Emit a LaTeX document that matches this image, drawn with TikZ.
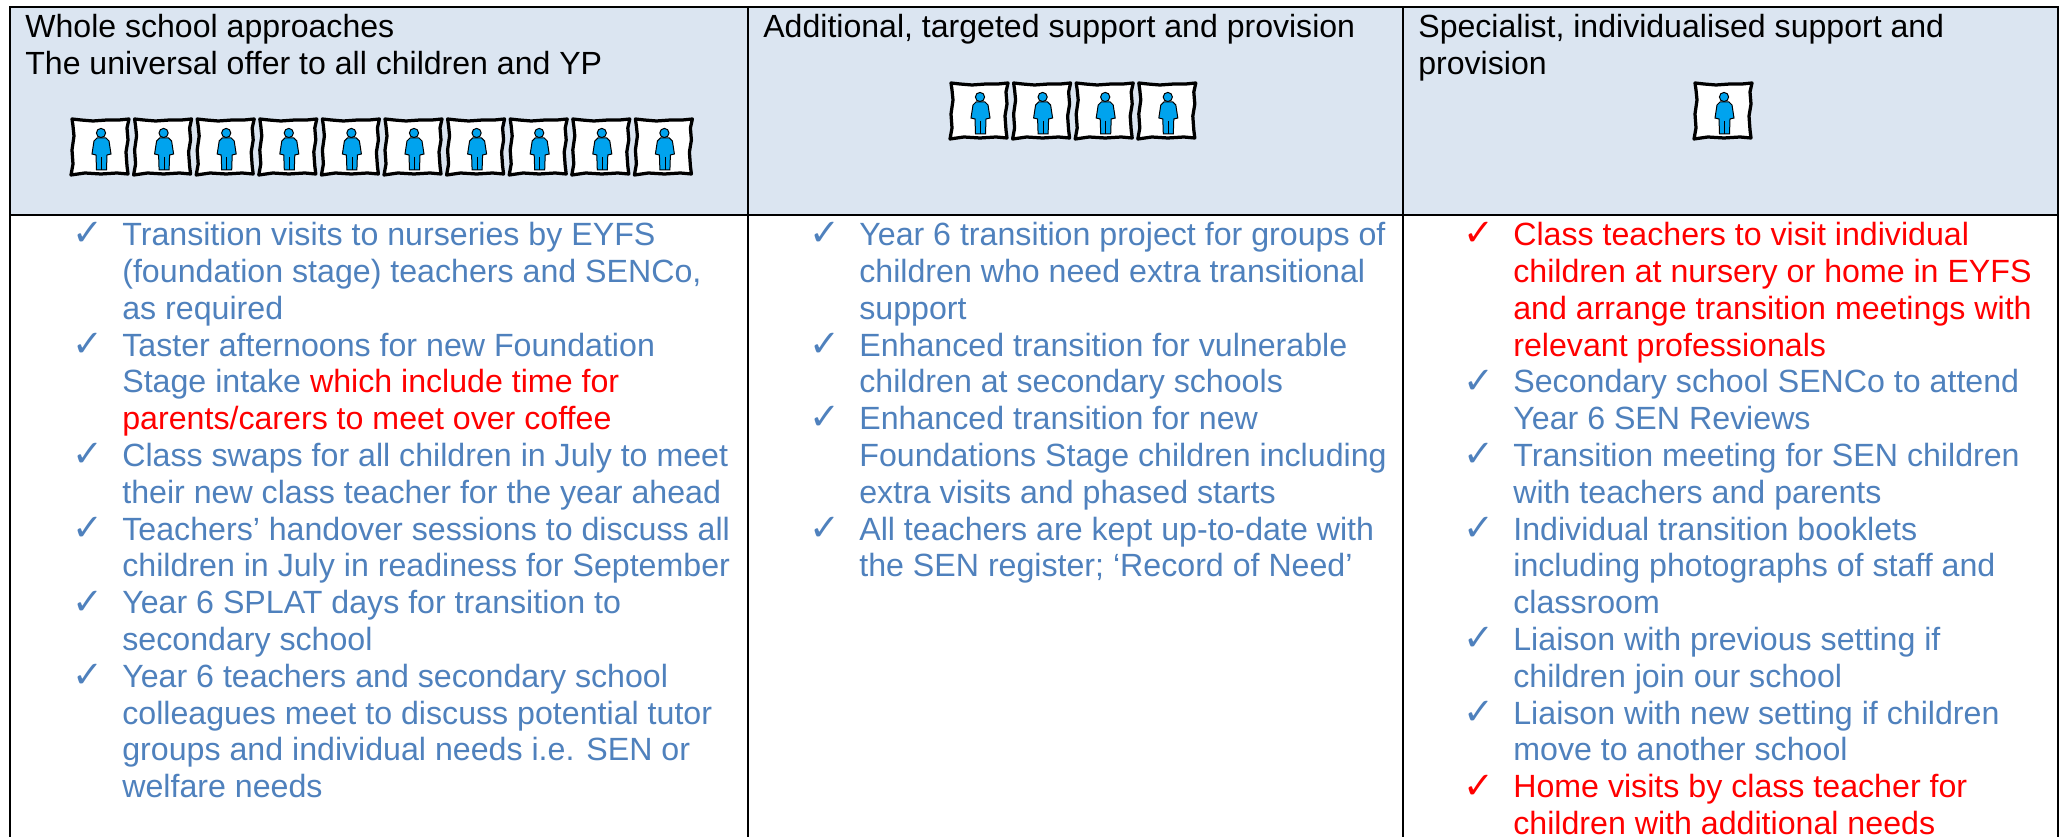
\documentclass[tikz,border=0pt]{standalone}
\usepackage{fontspec}
\setmainfont{Liberation Sans}
\newfontfamily\symfont{DejaVu Sans}
\definecolor{hdr}{HTML}{DBE5F1}
\definecolor{bl}{HTML}{4F81BD}
\definecolor{pers}{HTML}{00A3EE}
\tikzset{x=0.02cm,y=-0.02cm,
 hd/.style={anchor=north west,inner sep=0pt,align=left,font=\fontsize{18.25pt}{20.95pt}\selectfont,text=black},
 it/.style={anchor=north west,inner sep=0pt,align=left,font=\fontsize{18.3pt}{20.95pt}\selectfont},
 ck/.style={anchor=base west,inner sep=0pt,font=\fontsize{21pt}{21pt}\symfont},
 tablerule/.style={line width=0.055cm,draw=black}}
\newcommand{\personbox}[3]{%
 \begin{scope}[shift={(#2,#3)}]
 \node[inner sep=0pt,minimum size=0pt] (#1) at (30,29) {};
 \draw[line width=0.065cm,fill=white,line join=round] (1,1) -- (10,2) -- (22,3) -- (36,2) -- (48,2) -- (58,1) -- (56,10) -- (57,22) -- (55,34) -- (56,48) -- (57,56) -- (46,55) -- (30,56) -- (14,55) -- (0,57) -- (2,46) -- (1,32) -- (3,18) -- (2,8) -- cycle;
 \fill[pers,draw=black,line width=0.02cm] (30,15) circle (4.6);
 \fill[pers,draw=black,line width=0.02cm] (26,20) -- (35,20) -- (38,23) -- (40,36) -- (36,37) -- (35.5,52) -- (25.5,52) -- (25,37) -- (21,36) -- (23,23) -- cycle;
 \draw[line width=0.012cm] (30.5,39) -- (30.5,52);
 \end{scope}}
\newcommand{\myitem}[5]{%
 \node[ck,text=#4] (c#1) at ({#2-50},{245+36.8*#3+1}) {✓};
 \node[it,text=#4] (t#1) at ({#2},{245+36.8*#3-23}) {\rule{0pt}{0.46cm}#5};}
\begin{document}
\begin{tikzpicture}
\useasboundingbox (0,0) rectangle (2065,837);
\fill[white] (0,0) rectangle (2065,837);
\fill[hdr] (10,7) rectangle (2058,215);
\foreach \i [count=\k] in {0,...,9}{\personbox{pa\k}{71+62.6*\i}{118}}
\foreach \i [count=\k] in {0,...,3}{\personbox{pb\k}{950+62.6*\i}{82}}
\personbox{pc1}{1694}{82}
\draw[tablerule] (10,837) -- (10,7) -- (2058,7) -- (2058,837);
\draw[tablerule] (10,215) -- (2058,215);
\draw[tablerule] (748,7) -- (748,837);
\draw[tablerule] (1403,7) -- (1403,837);
\node[hd] (h1) at (25,14) {\rule{0pt}{0.46cm}Whole school approaches\\The universal offer to all children and YP};
\node[hd] (h2) at (763,14) {\rule{0pt}{0.46cm}Additional, targeted support and provision};
\node[hd] (h3) at (1418,14) {\rule{0pt}{0.46cm}Specialist, individualised support and\\provision};
\myitem{a1}{122}{0}{bl}{Transition visits to nurseries by EYFS\\(foundation stage) teachers and SENCo,\\as required}
\myitem{a2}{122}{3}{bl}{Taster afternoons for new Foundation\\Stage intake \textcolor{red}{which include time for}\\\textcolor{red}{parents/carers to meet over coffee}}
\myitem{a3}{122}{6}{bl}{Class swaps for all children in July to meet\\their new class teacher for the year ahead}
\myitem{a4}{122}{8}{bl}{Teachers’ handover sessions to discuss all\\children in July in readiness for September}
\myitem{a5}{122}{10}{bl}{Year 6 SPLAT days for transition to\\secondary school}
\myitem{a6}{122}{12}{bl}{Year 6 teachers and secondary school\\colleagues meet to discuss potential tutor\\groups and individual needs i.e. SEN or\\welfare needs}
\myitem{b1}{859}{0}{bl}{Year 6 transition project for groups of\\children who need extra transitional\\support}
\myitem{b2}{859}{3}{bl}{Enhanced transition for vulnerable\\children at secondary schools}
\myitem{b3}{859}{5}{bl}{Enhanced transition for new\\Foundations Stage children including\\extra visits and phased starts}
\myitem{b4}{859}{8}{bl}{All teachers are kept up-to-date with\\the SEN register; ‘Record of Need’}
\myitem{c1}{1513}{0}{red}{Class teachers to visit individual\\children at nursery or home in EYFS\\and arrange transition meetings with\\relevant professionals}
\myitem{c2}{1513}{4}{bl}{Secondary school SENCo to attend\\Year 6 SEN Reviews}
\myitem{c3}{1513}{6}{bl}{Transition meeting for SEN children\\with teachers and parents}
\myitem{c4}{1513}{8}{bl}{Individual transition booklets\\including photographs of staff and\\classroom}
\myitem{c5}{1513}{11}{bl}{Liaison with previous setting if\\children join our school}
\myitem{c6}{1513}{13}{bl}{Liaison with new setting if children\\move to another school}
\myitem{c7}{1513}{15}{red}{Home visits by class teacher for\\children with additional needs}
\end{tikzpicture}
\end{document}
